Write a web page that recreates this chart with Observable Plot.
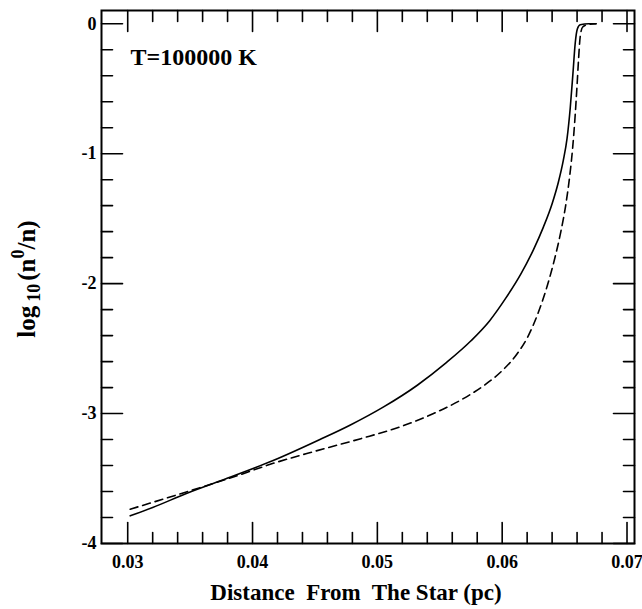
<!DOCTYPE html>
<html><head><meta charset="utf-8">
<script src="https://cdn.jsdelivr.net/npm/d3@7"></script>
<script src="https://cdn.jsdelivr.net/npm/@observablehq/plot@0.6"></script>
<style>
html,body{margin:0;padding:0;background:#fff;}
svg text{white-space:pre;}
</style></head><body><div id="chart"></div>
<script>
const solidX = [0.0302,0.0320,0.0347,0.0383,0.0416,0.0454,0.0478,0.0505,0.0532,0.0555,0.0575,0.0590,0.0603,0.0615,0.0625,0.0633,0.0640,0.0645,0.0649,0.0652,0.06545,0.06567,0.06585,0.06602,0.06625,0.06693,0.06752];
const solidY = [-3.787,-3.723,-3.615,-3.487,-3.364,-3.20,-3.09,-2.949,-2.782,-2.61,-2.44,-2.285,-2.11,-1.925,-1.74,-1.565,-1.385,-1.22,-1.05,-0.88,-0.65,-0.38,-0.15,-0.04,-0.008,0,0];
const dashedX = [0.0302,0.0347,0.0389,0.0416,0.0450,0.0486,0.0518,0.0545,0.0568,0.0586,0.0600,0.0612,0.0621,0.0629,0.0636,0.0642,0.0647,0.0651,0.0654,0.06565,0.06585,0.06600,0.06612,0.06625,0.06645,0.06693,0.06752];
const dashedY = [-3.736,-3.603,-3.474,-3.385,-3.29,-3.195,-3.103,-3.0,-2.89,-2.78,-2.67,-2.54,-2.40,-2.22,-2.02,-1.81,-1.60,-1.39,-1.18,-0.95,-0.70,-0.47,-0.27,-0.10,-0.025,-0.004,0];

const xMajorTicks = [0.03,0.04,0.05,0.06,0.07];
const xTickLabels = ["0.03","0.04","0.05","0.06","0.07"];
const xMinorTicks = [0.032,0.034,0.036,0.038,0.042,0.044,0.046,0.048,0.052,0.054,0.056,0.058,0.062,0.064,0.066,0.068];
const yMajorTicks = [0,-1,-2,-3,-4];
const yTickLabels = ["0","-1","-2","-3","-4"];
const yMinorTicks = [-0.2,-0.4,-0.6,-0.8,-1.2,-1.4,-1.6,-1.8,-2.2,-2.4,-2.6,-2.8,-3.2,-3.4,-3.6,-3.8];
const annotation = "T=100000 K";
const xTitle = "Distance  From  The Star (pc)";

const solid = solidX.map((x,i)=>({x, y: solidY[i]}));
const dashed = dashedX.map((x,i)=>({x, y: dashedY[i]}));

const W = 642, H = 609, mL = 101, mR = 8, mT = 10, mB = 66;
const innerH = H - mT - mB, innerW = W - mL - mR;
const xDom = [0.0279, 0.0706], yDom = [-4, 0.102];
const kx = innerW / (xDom[1] - xDom[0]), ky = innerH / (yDom[1] - yDom[0]);
const major = 21, minor = 11;
const font = "'Liberation Serif', 'Times New Roman', serif";

// Tick segments (inward, all four sides) built from the tick lists
const segs = [];
let sid = 0;
function addX(ticks, len) {
  for (const t of ticks) {
    sid++; segs.push({id: sid, x: t, y: yDom[0]}, {id: sid, x: t, y: yDom[0] + len / ky});
    sid++; segs.push({id: sid, x: t, y: yDom[1]}, {id: sid, x: t, y: yDom[1] - len / ky});
  }
}
function addY(ticks, len) {
  for (const t of ticks) {
    sid++; segs.push({id: sid, x: xDom[0], y: t}, {id: sid, x: xDom[0] + len / kx, y: t});
    sid++; segs.push({id: sid, x: xDom[1], y: t}, {id: sid, x: xDom[1] - len / kx, y: t});
  }
}
addX(xMajorTicks, major); addX(xMinorTicks, minor);
addY(yMajorTicks, major); addY(yMinorTicks, minor);

const chart = Plot.plot({
  width: W, height: H,
  marginLeft: mL, marginRight: mR, marginTop: mT, marginBottom: mB,
  style: {fontFamily: font, fontWeight: "bold", color: "#000", background: "#fff"},
  x: {domain: xDom, axis: null},
  y: {domain: yDom, axis: null},
  marks: [
    Plot.line(solid, {x: "x", y: "y", stroke: "#000", strokeWidth: 1.6, curve: "monotone-x"}),
    Plot.line(dashed, {x: "x", y: "y", stroke: "#000", strokeWidth: 1.6, strokeDasharray: "8,5", curve: "monotone-x"}),
    Plot.line(segs, {x: "x", y: "y", z: "id", stroke: "#000", strokeWidth: 1.6, curve: "linear"}),
    Plot.frame({stroke: "#000", strokeWidth: 2}),
    Plot.axisX(xMajorTicks, {anchor: "bottom", tickSize: 0, tickPadding: 12, tickFormat: d => xTickLabels[xMajorTicks.indexOf(d)], fontSize: 18, fontWeight: "bold", fontFamily: font, label: null}),
    Plot.axisY(yMajorTicks, {anchor: "left", tickSize: 0, tickPadding: 5, tickFormat: d => yTickLabels[yMajorTicks.indexOf(d)], fontSize: 18, fontWeight: "bold", fontFamily: font, label: null}),
    Plot.text([annotation], {text: d => d, frameAnchor: "top-left", textAnchor: "start", lineAnchor: "middle", dx: 29, dy: 47, fontSize: 24, fontWeight: "bold", fontFamily: font, fill: "#000"}),
    Plot.text([xTitle], {text: d => d, frameAnchor: "bottom", textAnchor: "middle", lineAnchor: "middle", dx: -12, dy: 49, fontSize: 23, fontWeight: "bold", fontFamily: font, fill: "#000"})
  ]
});
document.getElementById("chart").appendChild(chart);

// Y-axis title with subscript and superscript
const ylab = d3.select(chart).append("text")
  .attr("transform", "translate(35,279) rotate(-90)")
  .attr("text-anchor", "middle")
  .attr("fill", "#000")
  .style("font-family", font).style("font-weight", "bold").style("font-size", "25px");
ylab.append("tspan").text("log");
ylab.append("tspan").attr("dx", 4).attr("dy", 5).style("font-size", "18px").text("10");
ylab.append("tspan").attr("dx", 3).attr("dy", -5).text("(n");
ylab.append("tspan").attr("dy", -11).style("font-size", "18px").text("0");
ylab.append("tspan").attr("dy", 11).text("/n)");
</script></body></html>
